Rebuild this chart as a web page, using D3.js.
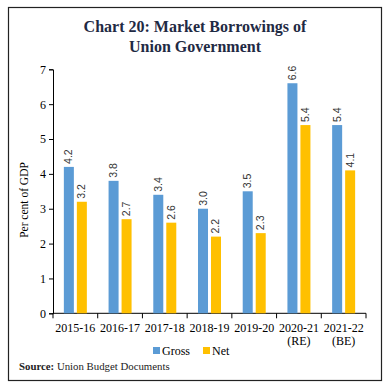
<!DOCTYPE html>
<html><head><meta charset="utf-8">
<script src="https://cdn.jsdelivr.net/npm/d3@7"></script>
<style>body{margin:0;background:#fff}</style>
</head><body>
<svg id="c" width="391" height="391"></svg>
<script>
const categories = ["2015-16","2016-17","2017-18","2018-19","2019-20","2020-21\n(RE)","2021-22\n(BE)"];
const seriesNames = ["Gross","Net"];
const gross = [4.2,3.8,3.4,3.0,3.5,6.6,5.4];
const net = [3.2,2.7,2.6,2.2,2.3,5.4,4.1];
const yTicks = [0,1,2,3,4,5,6,7];
const colors = ["#5B9BD5","#FFC000"];

const svg = d3.select("#c");
const serif = "'Liberation Serif', 'DejaVu Serif', serif";
const sans = "'Liberation Sans', Arial, sans-serif";

svg.append("rect").attr("x",8.5).attr("y",7.5).attr("width",373).attr("height",373)
  .attr("fill","none").attr("stroke","#222").attr("stroke-width",1.2);

const title = svg.append("text").attr("text-anchor","middle").attr("font-family",serif)
  .attr("font-weight","bold").attr("font-size",16).attr("fill","#1f2a44");
title.append("tspan").attr("x",195).attr("y",32).text("Chart 20: Market Borrowings of");
title.append("tspan").attr("x",195).attr("y",52).text("Union Government");

const L=53, R=366, T=69.3, B=313.3;
const x0 = d3.scaleBand().domain(categories).range([L,R]).paddingInner(0).paddingOuter(0);
const bw = x0.bandwidth();
const x1 = d3.scaleBand().domain(seriesNames).range([bw/2-11.5, bw/2+11.5]).paddingInner(0.23);
const y = d3.scaleLinear().domain([0,7]).range([B,T]);

// y axis
const ya = svg.append("g").attr("transform",`translate(${L},0)`)
  .call(d3.axisLeft(y).tickValues(yTicks).tickSize(4).tickPadding(3).tickFormat(d3.format("d")));
ya.select(".domain").attr("stroke","#000");
ya.selectAll("text").attr("font-family",serif).attr("font-size",12).attr("fill","#000");

// x axis
const xa = svg.append("g").attr("transform",`translate(0,${B})`)
  .call(d3.axisBottom(x0).tickSize(0).tickFormat(""));
xa.select(".domain").attr("stroke","#000").attr("d",`M${L},0H${R}`);
const bounds = categories.map(c=>x0(c)).concat([R]);
xa.selectAll(".bt").data(bounds).enter().append("line")
  .attr("x1",d=>d).attr("x2",d=>d).attr("y1",0).attr("y2",5).attr("stroke","#000");
xa.selectAll(".lab").data(categories).enter().append("text")
  .attr("text-anchor","middle").attr("font-family",serif).attr("font-size",12).attr("fill","#000")
  .attr("transform",d=>`translate(${x0(d)+bw/2},0)`)
  .each(function(d){
    const lines=d.split("\n");
    lines.forEach((t,i)=>d3.select(this).append("tspan").attr("x",0).attr("y",19+i*13).text(t));
  });

// bars
const data = categories.map((c,i)=>({c, vals:[{s:"Gross",v:gross[i]},{s:"Net",v:net[i]}]}));
const g = svg.append("g");
const grp = g.selectAll("g").data(data).enter().append("g")
  .attr("transform",d=>`translate(${x0(d.c)},0)`);
grp.selectAll("rect").data(d=>d.vals).enter().append("rect")
  .attr("x",d=>x1(d.s)).attr("width",x1.bandwidth())
  .attr("y",d=>y(d.v)).attr("height",d=>B-y(d.v))
  .attr("fill",(d,i)=>colors[i]);
grp.selectAll("text").data(d=>d.vals).enter().append("text")
  .attr("transform",d=>`translate(${x1(d.s)+x1.bandwidth()/2+3.5},${y(d.v)-3}) rotate(-90)`)
  .attr("font-family",sans).attr("font-size",10.5).attr("fill","#333")
  .text(d=>d3.format(".1f")(d.v));

// y label
svg.append("text").attr("transform","translate(28,200) rotate(-90)").attr("text-anchor","middle")
  .attr("font-family",serif).attr("font-size",11.5).attr("fill","#000").text("Per cent of GDP");

// legend
const leg = svg.append("g");
const legX=[153,203];
seriesNames.forEach((s,i)=>{
  leg.append("rect").attr("x",legX[i]).attr("y",347).attr("width",7).attr("height",7).attr("fill",colors[i]);
  leg.append("text").attr("x",legX[i]+9).attr("y",355).attr("font-family",serif).attr("font-size",12)
    .attr("fill","#000").text(s);
});

// source
const src = svg.append("text").attr("x",19).attr("y",370).attr("font-family",serif).attr("font-size",10.8).attr("fill","#222");
src.append("tspan").attr("font-weight","bold").text("Source:");
src.append("tspan").text(" Union Budget Documents");
</script>
</body></html>
